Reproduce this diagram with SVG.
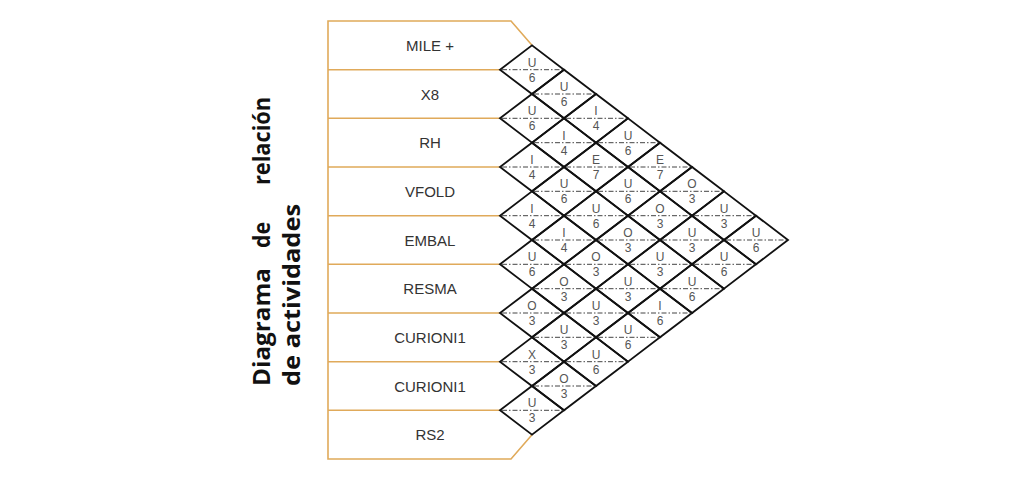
<svg xmlns="http://www.w3.org/2000/svg" width="1024" height="481" viewBox="0 0 1024 481">
<style>
.box{fill:none;stroke:#E0AA5A;stroke-width:1.6}
.lbl{font-family:"Liberation Sans",Arial,sans-serif;font-size:15px;fill:#333;text-anchor:middle}
.dm{fill:none;stroke:#111;stroke-width:1.8}
.dl{stroke:#444;stroke-width:1;stroke-dasharray:5 2 1.5 2}
.t{font-family:"Liberation Sans",Arial,sans-serif;font-size:12px;fill:#555;text-anchor:middle}
.title{font-family:"Open Sans","DejaVu Sans",sans-serif;font-weight:bold;font-size:23px;fill:#111}
</style>
<rect width="1024" height="481" fill="#fff"/>
<g id="title">
<text class="title" transform="translate(270,386) rotate(-90)" textLength="118" lengthAdjust="spacingAndGlyphs">Diagrama</text>
<text class="title" transform="translate(270,248) rotate(-90)" textLength="26" lengthAdjust="spacingAndGlyphs">de</text>
<text class="title" transform="translate(270,185) rotate(-90)" textLength="88" lengthAdjust="spacingAndGlyphs">relación</text>
<text class="title" transform="translate(300,386) rotate(-90)" textLength="182" lengthAdjust="spacingAndGlyphs">de actividades</text>
</g>
<g id="rows">
<path class="box" d="M500,459 H328 V21 H511 L532,45.3"/>
<path class="box" d="M500,459 H511 L532,434.7"/>
<path class="box" d="M328,69.7 H500 M328,118.3 H500 M328,167 H500 M328,215.7 H500 M328,264.3 H500 M328,313 H500 M328,361.7 H500 M328,410.3 H500"/>
<g id="r1"><text class="lbl" x="430" y="51">MILE +</text></g>
<g id="r2"><text class="lbl" x="430" y="100">X8</text></g>
<g id="r3"><text class="lbl" x="430" y="148">RH</text></g>
<g id="r4"><text class="lbl" x="430" y="197">VFOLD</text></g>
<g id="r5"><text class="lbl" x="430" y="246">EMBAL</text></g>
<g id="r6"><text class="lbl" x="430" y="294">RESMA</text></g>
<g id="r7"><text class="lbl" x="430" y="343">CURIONI1</text></g>
<g id="r8"><text class="lbl" x="430" y="392">CURIONI1</text></g>
<g id="r9"><text class="lbl" x="430" y="440">RS2</text></g>
</g>
<defs>
<g id="d"><path class="dm" d="M-32,0 L0,-24.33 L32,0 L0,24.33 Z"/><line class="dl" x1="-30" y1="0" x2="30" y2="0"/></g>
</defs>
<g id="matrix">
<g transform="translate(532,69.7)"><use href="#d"/><text class="t" y="-3">U</text><text class="t" y="12">6</text></g>
<g transform="translate(564,94)"><use href="#d"/><text class="t" y="-3">U</text><text class="t" y="12">6</text></g>
<g transform="translate(532,118.3)"><use href="#d"/><text class="t" y="-3">U</text><text class="t" y="12">6</text></g>
<g transform="translate(596,118.3)"><use href="#d"/><text class="t" y="-3">I</text><text class="t" y="12">4</text></g>
<g transform="translate(564,142.7)"><use href="#d"/><text class="t" y="-3">I</text><text class="t" y="12">4</text></g>
<g transform="translate(628,142.7)"><use href="#d"/><text class="t" y="-3">U</text><text class="t" y="12">6</text></g>
<g transform="translate(532,167)"><use href="#d"/><text class="t" y="-3">I</text><text class="t" y="12">4</text></g>
<g transform="translate(596,167)"><use href="#d"/><text class="t" y="-3">E</text><text class="t" y="12">7</text></g>
<g transform="translate(660,167)"><use href="#d"/><text class="t" y="-3">E</text><text class="t" y="12">7</text></g>
<g transform="translate(564,191.3)"><use href="#d"/><text class="t" y="-3">U</text><text class="t" y="12">6</text></g>
<g transform="translate(628,191.3)"><use href="#d"/><text class="t" y="-3">U</text><text class="t" y="12">6</text></g>
<g transform="translate(692,191.3)"><use href="#d"/><text class="t" y="-3">O</text><text class="t" y="12">3</text></g>
<g transform="translate(532,215.7)"><use href="#d"/><text class="t" y="-3">I</text><text class="t" y="12">4</text></g>
<g transform="translate(596,215.7)"><use href="#d"/><text class="t" y="-3">U</text><text class="t" y="12">6</text></g>
<g transform="translate(660,215.7)"><use href="#d"/><text class="t" y="-3">O</text><text class="t" y="12">3</text></g>
<g transform="translate(724,215.7)"><use href="#d"/><text class="t" y="-3">U</text><text class="t" y="12">3</text></g>
<g transform="translate(564,240)"><use href="#d"/><text class="t" y="-3">I</text><text class="t" y="12">4</text></g>
<g transform="translate(628,240)"><use href="#d"/><text class="t" y="-3">O</text><text class="t" y="12">3</text></g>
<g transform="translate(692,240)"><use href="#d"/><text class="t" y="-3">U</text><text class="t" y="12">3</text></g>
<g transform="translate(756,240)"><use href="#d"/><text class="t" y="-3">U</text><text class="t" y="12">6</text></g>
<g transform="translate(532,264.3)"><use href="#d"/><text class="t" y="-3">U</text><text class="t" y="12">6</text></g>
<g transform="translate(596,264.3)"><use href="#d"/><text class="t" y="-3">O</text><text class="t" y="12">3</text></g>
<g transform="translate(660,264.3)"><use href="#d"/><text class="t" y="-3">U</text><text class="t" y="12">3</text></g>
<g transform="translate(724,264.3)"><use href="#d"/><text class="t" y="-3">U</text><text class="t" y="12">6</text></g>
<g transform="translate(564,288.7)"><use href="#d"/><text class="t" y="-3">O</text><text class="t" y="12">3</text></g>
<g transform="translate(628,288.7)"><use href="#d"/><text class="t" y="-3">U</text><text class="t" y="12">3</text></g>
<g transform="translate(692,288.7)"><use href="#d"/><text class="t" y="-3">U</text><text class="t" y="12">6</text></g>
<g transform="translate(532,313)"><use href="#d"/><text class="t" y="-3">O</text><text class="t" y="12">3</text></g>
<g transform="translate(596,313)"><use href="#d"/><text class="t" y="-3">U</text><text class="t" y="12">3</text></g>
<g transform="translate(660,313)"><use href="#d"/><text class="t" y="-3">I</text><text class="t" y="12">6</text></g>
<g transform="translate(564,337.3)"><use href="#d"/><text class="t" y="-3">U</text><text class="t" y="12">3</text></g>
<g transform="translate(628,337.3)"><use href="#d"/><text class="t" y="-3">U</text><text class="t" y="12">6</text></g>
<g transform="translate(532,361.7)"><use href="#d"/><text class="t" y="-3">X</text><text class="t" y="12">3</text></g>
<g transform="translate(596,361.7)"><use href="#d"/><text class="t" y="-3">U</text><text class="t" y="12">6</text></g>
<g transform="translate(564,386)"><use href="#d"/><text class="t" y="-3">O</text><text class="t" y="12">3</text></g>
<g transform="translate(532,410.3)"><use href="#d"/><text class="t" y="-3">U</text><text class="t" y="12">3</text></g>
</g>
</svg>
